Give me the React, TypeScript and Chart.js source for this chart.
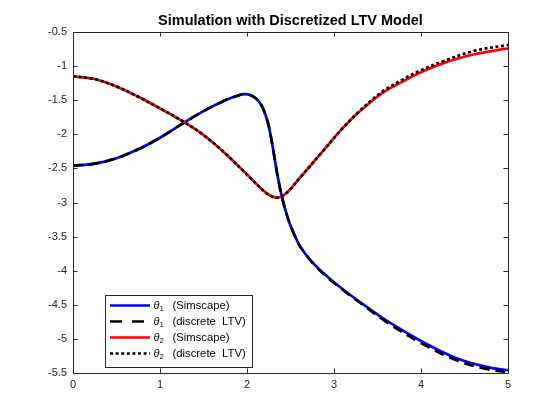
import React, { useEffect, useRef } from "react";
import { Chart, registerables } from "chart.js";

Chart.register(...registerables);

const titleText = "Simulation with Discretized LTV Model";

const t1 = [0, 0.25, 0.5, 0.75, 1.0, 1.25, 1.5, 1.75, 1.9, 1.97, 2.05, 2.1, 2.15, 2.2, 2.25, 2.3, 2.35, 2.4, 2.45, 2.5, 2.6, 2.7, 2.8, 2.9, 3.0, 3.15, 3.3, 3.6, 4.0, 4.4, 4.75, 5.0];
const theta1Sim = [-2.46, -2.43, -2.35, -2.22, -2.05, -1.85, -1.66, -1.50, -1.43, -1.41, -1.43, -1.47, -1.54, -1.67, -1.88, -2.22, -2.60, -2.91, -3.15, -3.34, -3.62, -3.80, -3.94, -4.06, -4.17, -4.32, -4.46, -4.73, -5.03, -5.28, -5.41, -5.46];
const theta1Ltv = [-2.46, -2.43, -2.35, -2.22, -2.05, -1.85, -1.66, -1.50, -1.43, -1.41, -1.43, -1.47, -1.54, -1.67, -1.88, -2.22, -2.60, -2.91, -3.15, -3.34, -3.62, -3.80, -3.95, -4.07, -4.18, -4.33, -4.47, -4.75, -5.06, -5.31, -5.44, -5.49];

const t2 = [0, 0.25, 0.5, 0.75, 1.0, 1.25, 1.5, 1.75, 2.0, 2.2, 2.27, 2.34, 2.41, 2.48, 2.6, 2.85, 3.1, 3.3, 3.55, 3.8, 4.0, 4.25, 4.6, 5.0];
const theta2Sim = [-1.15, -1.19, -1.30, -1.45, -1.62, -1.80, -2.01, -2.28, -2.59, -2.84, -2.90, -2.93, -2.90, -2.83, -2.65, -2.28, -1.91, -1.66, -1.40, -1.22, -1.09, -0.96, -0.83, -0.74];
const theta2Ltv = [-1.15, -1.19, -1.30, -1.45, -1.62, -1.80, -2.01, -2.28, -2.59, -2.84, -2.90, -2.93, -2.90, -2.83, -2.65, -2.28, -1.91, -1.65, -1.38, -1.19, -1.06, -0.93, -0.78, -0.69];

const legendSuffix = ["(Simscape)", "(discrete  LTV)", "(Simscape)", "(discrete  LTV)"];
const legendSub = ["1", "1", "2", "2"];

const xMin = 0, xMax = 5, xStep = 1;
const yMin = -5.5, yMax = -0.5, yStep = 0.5;

const AX = "#262626";
const FONT = "'Liberation Sans', Arial, Helvetica, sans-serif";

const toXY = (ts: number[], vs: number[]) => ts.map((t, i) => ({ x: t, y: vs[i] }));

const decorPlugin = {
  id: "decor",
  afterDraw(chart: any) {
    const { ctx, chartArea: a, scales } = chart;
    const xs = scales.x, ys = scales.y;
    ctx.save();
    ctx.strokeStyle = AX;
    ctx.lineWidth = 1;
    ctx.setLineDash([]);
    ctx.strokeRect(Math.round(a.left) + 0.5, Math.round(a.top) + 0.5, Math.round(a.right - a.left), Math.round(a.bottom - a.top));
    const tl = 4.5;
    ctx.beginPath();
    for (let v = xMin; v <= xMax + 1e-9; v += xStep) {
      const px = Math.round(xs.getPixelForValue(v)) + 0.5;
      ctx.moveTo(px, a.bottom); ctx.lineTo(px, a.bottom - tl);
      ctx.moveTo(px, a.top); ctx.lineTo(px, a.top + tl);
    }
    for (let v = yMin; v <= yMax + 1e-9; v += yStep) {
      const py = Math.round(ys.getPixelForValue(v)) + 0.5;
      ctx.moveTo(a.left, py); ctx.lineTo(a.left + tl, py);
      ctx.moveTo(a.right, py); ctx.lineTo(a.right - tl, py);
    }
    ctx.stroke();
    ctx.fillStyle = "#000";
    ctx.font = `bold 14.5px ${FONT}`;
    ctx.textAlign = "center";
    ctx.textBaseline = "alphabetic";
    ctx.fillText(titleText, (a.left + a.right) / 2, 24.5);
    const bx = 105.5, by = 295.5, bw = 147, bh = 72;
    ctx.fillStyle = "#fff";
    ctx.fillRect(bx, by, bw, bh);
    ctx.strokeStyle = AX;
    ctx.lineWidth = 1;
    ctx.strokeRect(bx, by, bw, bh);
    const rows = [305.5, 321.5, 337.5, 353.5];
    const colors = ["#0000ff", "#000000", "#ff0000", "#000000"];
    const dashes = [[], [12, 10], [], [3, 2.6]];
    rows.forEach((ry, i) => {
      ctx.strokeStyle = colors[i];
      ctx.lineWidth = 2.7;
      ctx.setLineDash(dashes[i]);
      ctx.lineCap = "butt";
      ctx.beginPath();
      ctx.moveTo(110, ry);
      ctx.lineTo(150, ry);
      ctx.stroke();
      ctx.setLineDash([]);
      ctx.fillStyle = "#000";
      ctx.textAlign = "left";
      ctx.textBaseline = "middle";
      ctx.font = `italic 11px ${FONT}`;
      ctx.fillText("θ", 153.5, ry);
      ctx.font = `8px ${FONT}`;
      ctx.fillText(legendSub[i], 159.5, ry + 3);
      ctx.font = `11.3px ${FONT}`;
      ctx.fillText(legendSuffix[i], 172.5, ry);
    });
    ctx.restore();
  },
};

const fmt = (v: any) => `${+Number(v).toFixed(1)}`;

export default function App() {
  const ref = useRef<HTMLCanvasElement | null>(null);
  useEffect(() => {
    if (!ref.current) return;
    const common = {
      fill: false,
      pointRadius: 0,
      tension: 0.35,
      borderCapStyle: "butt" as const,
    };
    const chart = new Chart(ref.current, {
      type: "line",
      data: {
        datasets: [
          { ...common, label: "θ1 (Simscape)", data: toXY(t1, theta1Sim), borderColor: "#0000ff", borderWidth: 2.7, order: 4 },
          { ...common, label: "θ1 (discrete LTV)", data: toXY(t1, theta1Ltv), borderColor: "#000000", borderWidth: 2.7, borderDash: [10, 6], order: 3 },
          { ...common, label: "θ2 (Simscape)", data: toXY(t2, theta2Sim), borderColor: "#ff0000", borderWidth: 2.7, order: 2 },
          { ...common, label: "θ2 (discrete LTV)", data: toXY(t2, theta2Ltv), borderColor: "#000000", borderWidth: 2.7, borderDash: [3, 2.6], order: 1 },
        ],
      },
      options: {
        responsive: false,
        animation: false,
        events: [],
        layout: { padding: { top: 32, right: 52, left: 0, bottom: 0 } },
        plugins: { legend: { display: false }, tooltip: { enabled: false }, title: { display: false } },
        scales: {
          x: {
            type: "linear",
            min: xMin,
            max: xMax,
            grid: { display: false, drawTicks: false },
            border: { display: false },
            ticks: { stepSize: xStep, color: AX, font: { family: FONT, size: 11 }, padding: 5, maxRotation: 0, callback: fmt },
            afterFit: (s: any) => { s.height = 47; },
          },
          y: {
            type: "linear",
            min: yMin,
            max: yMax,
            grid: { display: false, drawTicks: false },
            border: { display: false },
            ticks: { stepSize: yStep, color: AX, font: { family: FONT, size: 11 }, padding: 6, callback: fmt },
            afterFit: (s: any) => { s.width = 73; },
          },
        },
      },
      plugins: [decorPlugin],
    });
    return () => chart.destroy();
  }, []);
  return (
    <div style={{ position: "absolute", left: 0, top: 0, width: 560, height: 420, background: "#fff" }}>
      <canvas ref={ref} width={560} height={420} style={{ width: 560, height: 420, display: "block" }} />
    </div>
  );
}
